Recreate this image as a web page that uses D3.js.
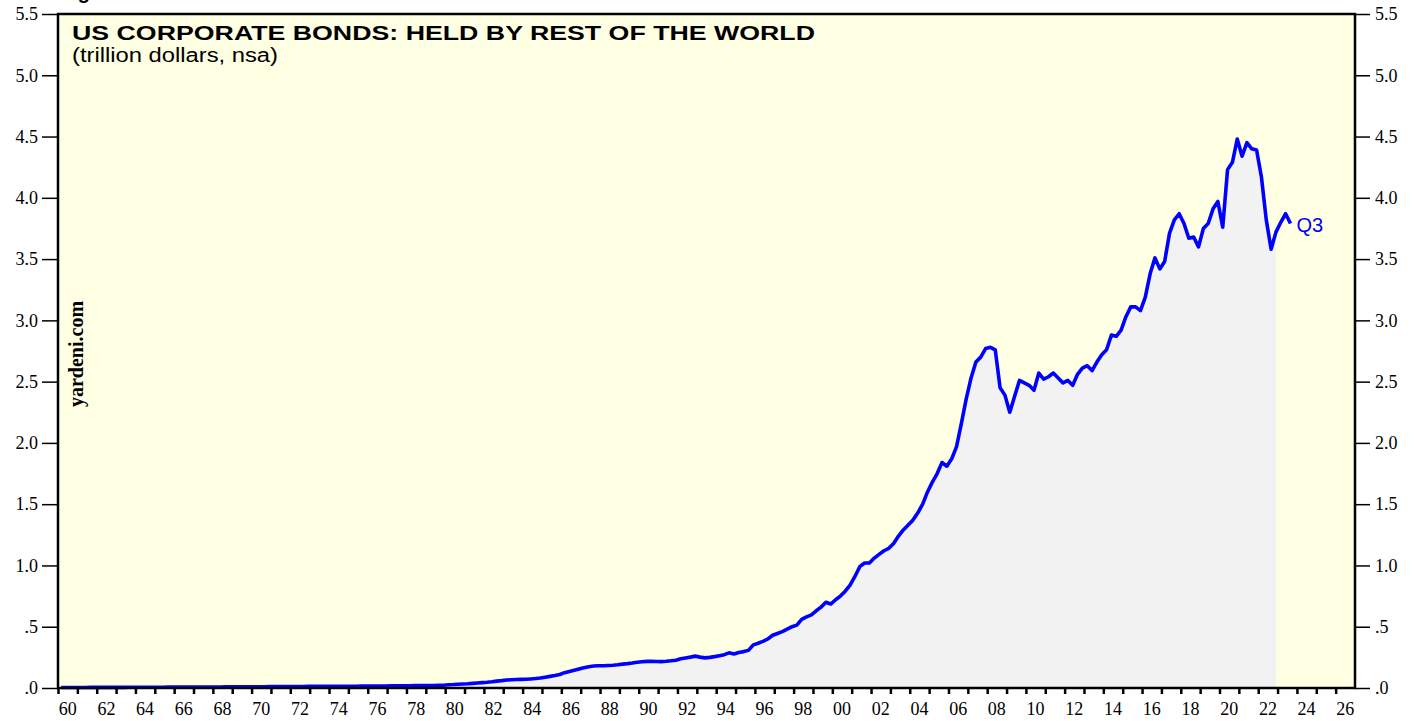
<!DOCTYPE html>
<html>
<head>
<meta charset="utf-8">
<script src="https://cdn.jsdelivr.net/npm/d3@7"></script>
<style>
  html, body { margin: 0; padding: 0; background: #fff; }
  svg { display: block; }
</style>
</head>
<body>
<div id="chart"></div>
<script>
'use strict';

// quarterly series, trillion dollars, one row per year (Q1..Q4), from 1960
var startYear = 1960;
var holdings = [
  [0.004, 0.004, 0.004, 0.004], // 1960
  [0.004, 0.004, 0.005, 0.005],
  [0.005, 0.005, 0.005, 0.005],
  [0.005, 0.005, 0.006, 0.006],
  [0.006, 0.006, 0.006, 0.006],
  [0.006, 0.006, 0.007, 0.007], // 1965
  [0.007, 0.007, 0.007, 0.007],
  [0.007, 0.008, 0.008, 0.008],
  [0.008, 0.008, 0.009, 0.009],
  [0.009, 0.009, 0.010, 0.010],
  [0.010, 0.010, 0.010, 0.011], // 1970
  [0.011, 0.011, 0.011, 0.012],
  [0.012, 0.012, 0.012, 0.013],
  [0.013, 0.013, 0.013, 0.013],
  [0.013, 0.014, 0.014, 0.014],
  [0.014, 0.014, 0.015, 0.015], // 1975
  [0.015, 0.016, 0.016, 0.016],
  [0.017, 0.017, 0.018, 0.018],
  [0.018, 0.019, 0.019, 0.020],
  [0.020, 0.021, 0.022, 0.023],
  [0.026, 0.028, 0.031, 0.033], // 1980
  [0.035, 0.038, 0.041, 0.044],
  [0.047, 0.051, 0.056, 0.060],
  [0.065, 0.067, 0.069, 0.070],
  [0.071, 0.074, 0.077, 0.081],
  [0.088, 0.095, 0.102, 0.110], // 1985
  [0.125, 0.135, 0.145, 0.155],
  [0.165, 0.173, 0.179, 0.181],
  [0.182, 0.184, 0.186, 0.190],
  [0.195, 0.199, 0.204, 0.210],
  [0.214, 0.217, 0.218, 0.216], // 1990
  [0.215, 0.218, 0.222, 0.227],
  [0.238, 0.245, 0.252, 0.260],
  [0.252, 0.246, 0.250, 0.256],
  [0.264, 0.272, 0.287, 0.278],
  [0.290, 0.297, 0.307, 0.352], // 1995
  [0.365, 0.380, 0.400, 0.430],
  [0.445, 0.460, 0.480, 0.500],
  [0.513, 0.560, 0.580, 0.597],
  [0.630, 0.660, 0.700, 0.685],
  [0.720, 0.750, 0.790, 0.840], // 2000
  [0.910, 0.990, 1.020, 1.020],
  [1.060, 1.090, 1.120, 1.140],
  [1.180, 1.240, 1.290, 1.330],
  [1.370, 1.430, 1.500, 1.600],
  [1.680, 1.750, 1.840, 1.810], // 2005
  [1.870, 1.970, 2.160, 2.360],
  [2.530, 2.660, 2.700, 2.770],
  [2.780, 2.760, 2.450, 2.390],
  [2.250, 2.380, 2.510, 2.490],
  [2.470, 2.430, 2.570, 2.520], // 2010
  [2.540, 2.570, 2.530, 2.490],
  [2.510, 2.470, 2.560, 2.610],
  [2.630, 2.590, 2.660, 2.720],
  [2.760, 2.880, 2.870, 2.920],
  [3.030, 3.110, 3.110, 3.080], // 2015
  [3.190, 3.380, 3.510, 3.420],
  [3.480, 3.710, 3.820, 3.870],
  [3.790, 3.670, 3.680, 3.600],
  [3.750, 3.790, 3.910, 3.970],
  [3.760, 4.230, 4.290, 4.480], // 2020
  [4.340, 4.450, 4.400, 4.390],
  [4.170, 3.820, 3.580, 3.720],
  [3.800, 3.870, 3.790]          // 2023
];
var shadeEnd = '2022Q4';
var lastLabel = 'Q3';

var yTicks = [0, 0.5, 1, 1.5, 2, 2.5, 3, 3.5, 4, 4.5, 5, 5.5];
var tickYears = d3.range(1960, 2027);
var labelYears = d3.range(1960, 2027, 2);

var title = 'US CORPORATE BONDS: HELD BY REST OF THE WORLD';
var subtitle = '(trillion dollars, nsa)';

// flatten rows into dated points; each quarter sits at the start of its last month
var points = [];
holdings.forEach(function(row, i) {
  row.forEach(function(v, q) {
    points.push({ key: (startYear + i) + 'Q' + (q + 1), t: startYear + i + (3 * q + 2) / 12, v: v });
  });
});
var shadeIdx = points.findIndex(function(p) { return p.key === shadeEnd; });
var shaded = points.slice(0, shadeIdx + 1);

var W = 1419, H = 721;
var m = { top: 14, right: 64, bottom: 33, left: 58 };
var w = W - m.left - m.right, h = H - m.top - m.bottom;

var svg = d3.select('#chart').append('svg')
    .attr('width', W)
    .attr('height', H);

var g = svg.append('g').attr('transform', 'translate(' + m.left + ',' + m.top + ')');

var x = d3.scaleLinear().domain([1960, 2027]).range([0, w]);
var y = d3.scaleLinear().domain([0, 5.5]).range([h, 0]);

g.append('rect')
    .attr('width', w)
    .attr('height', h)
    .attr('fill', '#ffffe3');

g.append('path')
    .datum(shaded)
    .attr('fill', '#f2f2f2')
    .attr('d', d3.area()
      .x(function(d) { return x(d.t); })
      .y0(h)
      .y1(function(d) { return y(d.v); }));

g.append('path')
    .datum(points)
    .attr('fill', 'none')
    .attr('stroke', '#0000ff')
    .attr('stroke-width', 3.6)
    .attr('stroke-linejoin', 'round')
    .attr('d', d3.line()
      .x(function(d) { return x(d.t); })
      .y(function(d) { return y(d.v); }));

var last = points[points.length - 1];
g.append('text')
    .attr('x', x(last.t) + 6)
    .attr('y', y(last.v) + 8)
    .attr('fill', '#0000ff')
    .style('font-family', 'Liberation Sans, Arial, sans-serif')
    .style('font-size', '20px')
    .text(lastLabel);

// axes
function yFmt(d) {
  var s = d3.format('.1f')(d);
  return d < 1 ? s.replace(/^0/, '') : s;
}
var serif = 'Liberation Serif, Times New Roman, serif';

var yl = g.append('g').call(d3.axisLeft(y).tickValues(yTicks).tickFormat(yFmt).tickSize(16).tickPadding(4));
var yr = g.append('g').attr('transform', 'translate(' + w + ',0)')
    .call(d3.axisRight(y).tickValues(yTicks).tickFormat(yFmt).tickSize(15).tickPadding(5));
var xb = g.append('g').attr('transform', 'translate(0,' + h + ')')
    .call(d3.axisBottom(x).tickValues(tickYears).tickFormat('').tickSize(6));

g.append('g').attr('transform', 'translate(0,' + h + ')')
    .selectAll('text')
    .data(labelYears)
    .enter().append('text')
    .attr('x', function(d) { return x(d + 0.5); })
    .attr('y', 27)
    .attr('text-anchor', 'middle')
    .style('font-family', serif)
    .style('font-size', '18px')
    .text(function(d) { return String(d % 100).padStart(2, '0'); });

[yl, yr, xb].forEach(function(a) {
  a.select('.domain').remove();
  a.selectAll('line').attr('stroke', '#000').attr('stroke-width', 1.5);
  a.selectAll('text').style('font-family', serif).style('font-size', '18px').attr('fill', '#000');
});
xb.selectAll('line').attr('stroke-width', 2.5);

// frame
g.append('rect')
    .attr('width', w)
    .attr('height', h)
    .attr('fill', 'none')
    .attr('stroke', '#000')
    .attr('stroke-width', 2.5);

g.append('text')
    .attr('x', 14)
    .attr('y', 26)
    .attr('textLength', 743)
    .attr('lengthAdjust', 'spacingAndGlyphs')
    .style('font-family', 'Liberation Sans, Arial, sans-serif')
    .style('font-weight', 'bold')
    .style('font-size', '21px')
    .text(title);

g.append('text')
    .attr('x', 14)
    .attr('y', 48)
    .attr('textLength', 206)
    .attr('lengthAdjust', 'spacingAndGlyphs')
    .style('font-family', 'Liberation Sans, Arial, sans-serif')
    .style('font-size', '20px')
    .text(subtitle);

g.append('text')
    .attr('transform', 'translate(25,' + (354 - m.top) + ') rotate(-90)')
    .attr('text-anchor', 'middle')
    .style('font-family', serif)
    .style('font-weight', 'bold')
    .style('font-size', '20px')
    .text('yardeni.com');

// figure caption cut off by the top edge
svg.append('text')
    .attr('x', 60)
    .attr('y', -1)
    .style('font-family', 'Liberation Sans, Arial, sans-serif')
    .style('font-weight', 'bold')
    .style('font-size', '20px')
    .text('Figure 1.');
</script>
</body>
</html>
